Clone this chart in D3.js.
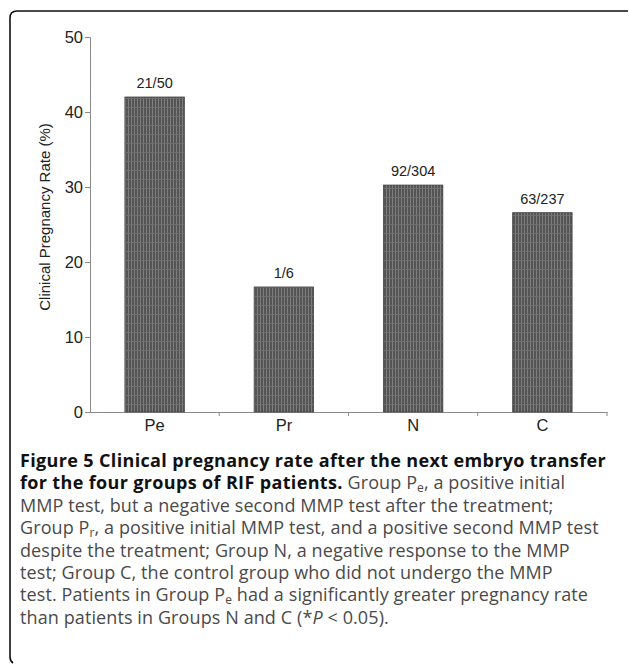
<!DOCTYPE html>
<html>
<head>
<meta charset="utf-8">
<script src="https://cdn.jsdelivr.net/npm/d3@7"></script>
<style>
  body { margin: 0; background: #fff; }
  svg { display: block; }
  .tick-label { font-family: "Liberation Sans", Arial, sans-serif; font-size: 16.5px; fill: #222; }
  .axis-title { font-family: "Liberation Sans", Arial, sans-serif; font-size: 15px; fill: #222; }
  .bar-label { font-family: "Liberation Sans", Arial, sans-serif; font-size: 14.5px; fill: #222; }
  .caption { font-family: "Open Sans", sans-serif; font-size: 18px; fill: #4a4a4a; letter-spacing: 0.1px; }
</style>
</head>
<body>
<svg id="chart" width="629" height="665"></svg>
<script>
const groups = ["Pe", "Pr", "N", "C"];
const rates = [42, 16.67, 30.26, 26.58];
const ratioLabels = ["21/50", "1/6", "92/304", "63/237"];
const yTicks = [0, 10, 20, 30, 40, 50];
const yTitle = "Clinical Pregnancy Rate (%)";

// caption lines: each an array of [text, style] runs
const captionLines = [
  [["Figure 5 Clinical pregnancy rate after the next embryo transfer", "b"]],
  [["for the four groups of RIF patients.", "b"], [" Group P", ""], ["e", "sub"], [", a positive initial", ""]],
  [["MMP test, but a negative second MMP test after the treatment;", ""]],
  [["Group P", ""], ["r", "sub"], [", a positive initial MMP test, and a positive second MMP test", ""]],
  [["despite the treatment; Group N, a negative response to the MMP", ""]],
  [["test; Group C, the control group who did not undergo the MMP", ""]],
  [["test. Patients in Group P", ""], ["e", "sub"], [" had a significantly greater pregnancy rate", ""]],
  [["than patients in Groups N and C (*", ""], ["P", "i"], [" < 0.05).", ""]],
];

const svg = d3.select("#chart");

// frame bracket (top + left, rounded corner)
svg.append("path")
  .attr("d", "M628,11 L17,11 Q10,11 10,18 L10,657 Q10,661 13,663")
  .attr("fill", "none").attr("stroke", "#111").attr("stroke-width", 1.6);

// bar texture
const defs = svg.append("defs");
const pat = defs.append("pattern").attr("id", "hatch")
  .attr("patternUnits", "userSpaceOnUse").attr("width", 3).attr("height", 9);
pat.append("rect").attr("width", 3).attr("height", 9).attr("fill", "#545454");
pat.append("rect").attr("x", 2).attr("width", 1).attr("height", 9).attr("fill", "#7e7e7e");
pat.append("rect").attr("y", 8).attr("width", 3).attr("height", 1).attr("fill", "#6e6e6e");

const x = d3.scaleBand().domain(groups).range([90, 607]).paddingInner(0.54).paddingOuter(0.27);
const y = d3.scaleLinear().domain([0, 50]).range([412, 37]);

// y axis
const yAxis = svg.append("g").attr("transform", "translate(90,0)")
  .call(d3.axisLeft(y).tickValues(yTicks).tickSize(5).tickPadding(2));
yAxis.select(".domain").attr("stroke", "#8a8a8a");
yAxis.selectAll(".tick line").attr("stroke", "#8a8a8a");
yAxis.selectAll(".tick text").attr("class", "tick-label").attr("fill", null).attr("font-size", null).attr("font-family", null);

// x axis
const xAxis = svg.append("g").attr("transform", "translate(0,412)")
  .call(d3.axisBottom(x).tickSize(0).tickSizeOuter(0).tickPadding(7));
xAxis.select(".domain").attr("stroke", "#8a8a8a");
xAxis.selectAll(".tick text").attr("class", "tick-label").attr("fill", null).attr("font-size", null).attr("font-family", null);
const step = x.step();
xAxis.selectAll(".sep").data(groups).join("line").attr("class", "sep")
  .attr("x1", (d) => x(d) + x.bandwidth() / 2 + step / 2)
  .attr("x2", (d) => x(d) + x.bandwidth() / 2 + step / 2)
  .attr("y1", 0).attr("y2", 4).attr("stroke", "#8a8a8a");

// bars
svg.append("g").selectAll("rect").data(groups).join("rect")
  .attr("x", (d) => x(d))
  .attr("y", (d, i) => y(rates[i]))
  .attr("width", x.bandwidth())
  .attr("height", (d, i) => y(0) - y(rates[i]))
  .attr("fill", "url(#hatch)")
  .attr("stroke", "#444").attr("stroke-width", 0.8);

svg.append("g").selectAll("text").data(groups).join("text")
  .attr("class", "bar-label")
  .attr("x", (d) => x(d) + x.bandwidth() / 2)
  .attr("y", (d, i) => y(rates[i]) - 9)
  .attr("text-anchor", "middle")
  .text((d, i) => ratioLabels[i]);

// y title
svg.append("text").attr("class", "axis-title")
  .attr("transform", "translate(50,217) rotate(-90)")
  .attr("text-anchor", "middle")
  .text(yTitle);

// caption
const cap = svg.append("text").attr("class", "caption");
captionLines.forEach((runs, li) => {
  const line = cap.append("tspan").attr("x", 20).attr("y", 467 + li * 22.4);
  let shifted = false;
  runs.forEach(([t, s]) => {
    const ts = line.append("tspan").text(t);
    if (shifted) { ts.attr("dy", -3); shifted = false; }
    if (s === "b") ts.attr("font-weight", "bold").attr("fill", "#111").attr("letter-spacing", "0.35px");
    if (s === "i") ts.attr("font-style", "italic");
    if (s === "sub") { ts.attr("font-size", "12px").attr("dy", 3); shifted = true; }
  });
});
</script>
</body>
</html>
